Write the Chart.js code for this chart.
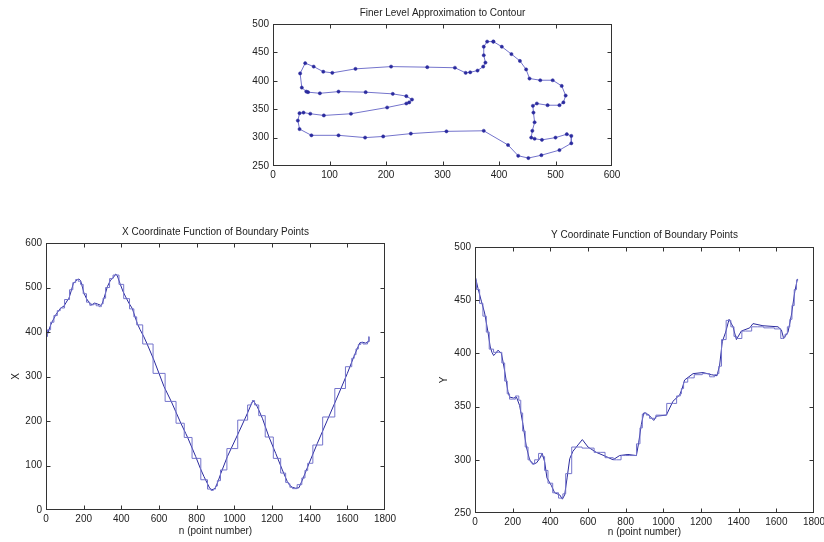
<!DOCTYPE html>
<html>
<head>
<meta charset="utf-8">
<script src="https://cdn.jsdelivr.net/npm/chart.js@4.4.1/dist/chart.umd.min.js"></script>
<style>
html, body { margin: 0; padding: 0; background: #fff; overflow: hidden; }
body { width: 824px; height: 542px; position: relative; }
canvas { position: absolute; }
</style>
</head>
<body>
<canvas id="contour" width="395" height="188" style="left:233px;top:0px"></canvas>
<canvas id="xfunc" width="401" height="324" style="left:0px;top:218px"></canvas>
<canvas id="yfunc" width="395" height="320" style="left:435px;top:222px"></canvas>
<script>
// contour vertices (finer approximation), in boundary order, with their point number
var vertX = [390, 405, 422, 437, 448, 454, 473, 495, 511, 518, 514, 507, 486, 467, 460, 461, 463, 459, 457, 463,
    476, 500, 520, 528, 528, 507, 475, 452, 434, 416, 373, 307, 244, 195, 163, 116, 68, 47, 44, 47,
    54, 66, 90, 138, 202, 236, 241, 246, 236, 212, 164, 116, 83, 62, 59, 51, 48, 57, 72, 89,
    105, 146, 209, 273, 322, 341, 349, 362, 372, 376, 373, 373, 379, 390];
var vertY = [469, 460, 447, 435, 420, 404, 401, 401, 391, 374, 362, 357, 357, 360, 356, 344, 327, 312, 300, 298,
    296, 300, 306, 303, 290, 278, 269, 264, 268, 287, 312, 311, 307, 302, 300, 304, 304, 315, 330, 343,
    344, 342, 339, 342, 353, 360, 362, 367, 373, 377, 380, 381, 378, 380, 381, 388, 413, 431, 425, 416,
    414, 421, 425, 424, 423, 414, 415, 418, 425, 432, 445, 460, 469, 469];
var vertN = [0, 16, 33, 51, 69, 82, 115, 135, 150, 165, 177, 190, 205, 225, 240, 246, 260, 273, 290, 298,
    308, 325, 350, 362, 377, 398, 427, 460, 473, 490, 537, 600, 665, 716, 752, 799, 845, 870, 882, 895,
    905, 915, 938, 983, 1053, 1088, 1092, 1100, 1115, 1144, 1184, 1230, 1262, 1283, 1290, 1300, 1318, 1349, 1368, 1382,
    1397, 1437, 1501, 1566, 1614, 1633, 1640, 1652, 1665, 1678, 1688, 1702, 1712, 1716];

// full boundary x(n)
var xFineN = [0, 3, 16, 25, 33, 51, 69, 82, 95, 115, 122, 135, 145, 155, 166, 175, 184, 190, 202, 215,
    234, 246, 258, 273, 290, 298, 308, 326, 343, 355, 370, 378, 393, 410, 423, 440, 458, 473, 485, 500,
    520, 537, 573, 600, 627, 665, 689, 716, 742, 752, 795, 820, 839, 860, 869, 880, 888, 901, 915, 928,
    963, 983, 1025, 1053, 1069, 1088, 1099, 1110, 1122, 1149, 1184, 1220, 1255, 1281, 1295, 1308, 1325, 1343, 1361, 1382,
    1397, 1441, 1494, 1547, 1600, 1635, 1652, 1667, 1680, 1698, 1710, 1715];
var xFineV = [390, 389, 405, 416, 423, 438, 449, 455, 458, 472, 476, 494, 509, 513, 518, 519, 515, 506, 487, 475,
    463, 462, 465, 463, 460, 463, 476, 502, 517, 521, 530, 527, 509, 490, 479, 465, 453, 434, 419, 405,
    389, 373, 337, 307, 277, 244, 221, 195, 172, 163, 120, 93, 75, 57, 49, 46, 46, 51, 66, 82,
    120, 138, 176, 202, 217, 236, 246, 240, 232, 206, 164, 127, 90, 64, 55, 51, 49, 50, 67, 89,
    105, 150, 202, 254, 307, 345, 362, 376, 377, 375, 378, 389];

// full boundary y(n)
var yFineN = [0, 3, 16, 34, 51, 69, 81, 90, 99, 110, 122, 140, 150, 158, 175, 184, 205, 220, 237, 255,
    273, 290, 308, 326, 343, 357, 370, 382, 405, 423, 450, 464, 476, 489, 503, 520, 547, 570, 600, 644,
    697, 733, 768, 812, 857, 869, 883, 896, 905, 924, 949, 963, 1016, 1051, 1087, 1100, 1113, 1158, 1211, 1255,
    1285, 1299, 1313, 1331, 1349, 1370, 1388, 1414, 1459, 1476, 1529, 1609, 1627, 1639, 1662, 1680, 1698, 1712];
var yFineV = [470, 471, 461, 449, 438, 420, 406, 401, 398, 400, 403, 400, 391, 383, 364, 359, 358, 359, 351, 333,
    312, 300, 296, 297, 301, 306, 298, 283, 276, 269, 267, 263, 267, 283, 301, 308, 314, 319, 312, 307,
    303, 300, 304, 305, 304, 316, 333, 344, 344, 342, 337, 341, 342, 355, 361, 367, 375, 381, 382, 380,
    379, 389, 411, 420, 432, 425, 413, 421, 424, 428, 426, 425, 422, 414, 420, 436, 458, 470];

var titles = ['Finer Level Approximation to Contour', 'X Coordinate Function of Boundary Points', 'Y Coordinate Function of Boundary Points'];

Chart.defaults.font.family = '"Liberation Sans", Arial, sans-serif';
Chart.defaults.font.size = 10;
Chart.defaults.color = '#222';

function pairs(a, b) {
    return a.map(function (v, i) { return { x: v, y: b[i] }; });
}

// matlab style box with inward ticks on all four sides
var boxTicks = {
    id: 'boxTicks',
    afterDraw: function (chart) {
        var a = chart.chartArea, ctx = chart.ctx, xs = chart.scales.x, ys = chart.scales.y;
        var l = Math.round(a.left) + 0.5, r = Math.round(a.right) - 0.5,
            t = Math.round(a.top) + 0.5, b = Math.round(a.bottom) - 0.5;
        var clamp = function (v, lo, hi) { return Math.min(Math.max(v, lo), hi); };
        ctx.save();
        ctx.strokeStyle = '#333';
        ctx.lineWidth = 1;
        ctx.beginPath();
        xs.ticks.forEach(function (tk) {
            var p = clamp(Math.round(xs.getPixelForValue(tk.value)) + 0.5, l, r);
            ctx.moveTo(p, b); ctx.lineTo(p, b - 4);
            ctx.moveTo(p, t); ctx.lineTo(p, t + 4);
        });
        ys.ticks.forEach(function (tk) {
            var p = clamp(Math.round(ys.getPixelForValue(tk.value)) + 0.5, t, b);
            ctx.moveTo(l, p); ctx.lineTo(l + 4, p);
            ctx.moveTo(r, p); ctx.lineTo(r - 4, p);
        });
        ctx.stroke();
        ctx.strokeRect(l, t, r - l, b - t);
        ctx.restore();
    }
};

function makeChart(id, o) {
    return new Chart(document.getElementById(id), {
        type: 'line',
        plugins: [boxTicks],
        data: { datasets: o.datasets },
        options: {
            responsive: false,
            animation: false,
            devicePixelRatio: 1,
            layout: { padding: { left: 0, top: 0, right: o.padRight, bottom: 0 } },
            plugins: {
                legend: { display: false },
                tooltip: { enabled: false },
                title: {
                    display: true,
                    text: o.title,
                    fullSize: false,
                    font: { size: 10, weight: 'normal' },
                    color: '#222',
                    padding: { top: o.titleTop, bottom: o.titleBottom }
                }
            },
            scales: {
                x: {
                    type: 'linear',
                    min: o.xMin, max: o.xMax,
                    grid: { display: false, drawTicks: false },
                    border: { display: false },
                    ticks: { stepSize: o.xStep, autoSkip: false, maxRotation: 0, padding: 3,
                        callback: function (v) { return String(v); } },
                    title: { display: !!o.xTitle, text: o.xTitle, font: { size: 10 }, color: '#222',
                        padding: { top: 0, bottom: o.xTitlePad } },
                    afterFit: function (s) { s.height = o.xh; }
                },
                y: {
                    type: 'linear',
                    min: o.yMin, max: o.yMax,
                    grid: { display: false, drawTicks: false },
                    border: { display: false },
                    ticks: { stepSize: o.yStep, autoSkip: false, padding: 4,
                        callback: function (v) { return String(v); } },
                    title: { display: !!o.yTitle, text: o.yTitle, font: { size: 10 }, color: '#222',
                        padding: { top: o.yTitlePad, bottom: 0 } },
                    afterFit: function (s) { s.width = o.yw; }
                }
            }
        }
    });
}

var dark = '#2b2b9e', light = '#7474cc';

makeChart('contour', {
    title: titles[0], titleTop: 7, titleBottom: 5, padRight: 16,
    xMin: 0, xMax: 600, xStep: 100, yMin: 250, yMax: 500, yStep: 50,
    yw: 40, xh: 22,
    datasets: [{
        data: pairs(vertX, vertY),
        borderColor: light, borderWidth: 1, tension: 0,
        pointRadius: 1.6, pointBackgroundColor: dark, pointBorderColor: dark, pointBorderWidth: 0.5
    }]
});

makeChart('xfunc', {
    title: titles[1], titleTop: 8, titleBottom: 5, padRight: 16,
    xMin: 0, xMax: 1800, xStep: 200, yMin: 0, yMax: 600, yStep: 100,
    yw: 46, xh: 32, xTitle: 'n (point number)', xTitlePad: 5, yTitle: 'X', yTitlePad: 10,
    datasets: [
        { data: pairs(vertN, vertX), stepped: 'middle', borderColor: light, borderWidth: 1, pointRadius: 0 },
        { data: pairs(xFineN, xFineV), borderColor: dark, borderWidth: 1, pointRadius: 0, tension: 0 }
    ]
});

makeChart('yfunc', {
    title: titles[2], titleTop: 7, titleBottom: 6, padRight: 16,
    xMin: 0, xMax: 1800, xStep: 200, yMin: 250, yMax: 500, yStep: 50,
    yw: 40, xh: 29, xTitle: 'n (point number)', xTitlePad: 4, yTitle: 'Y', yTitlePad: 3,
    datasets: [
        { data: pairs(vertN, vertY), stepped: 'middle', borderColor: light, borderWidth: 1, pointRadius: 0 },
        { data: pairs(yFineN, yFineV), borderColor: dark, borderWidth: 1, pointRadius: 0, tension: 0 }
    ]
});
</script>
</body>
</html>
